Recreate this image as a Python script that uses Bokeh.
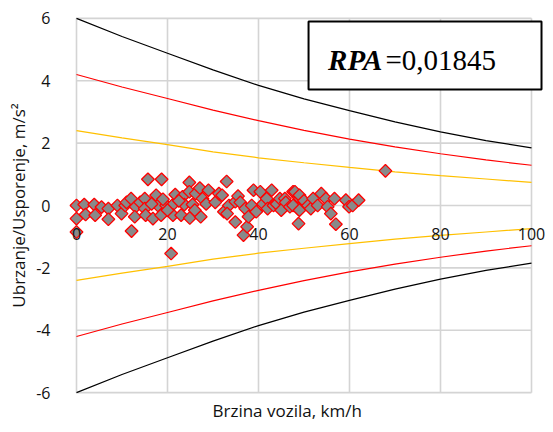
from bokeh.plotting import figure
from bokeh.models import Range1d, FixedTicker, Label, BoxAnnotation, Title
from bokeh.embed import file_html
from bokeh.resources import INLINE

# ---- data ----
speed = [0, 10, 20, 30, 40, 50, 60, 70, 80, 90, 100]
black_upper = [6.0, 5.42, 4.88, 4.35, 3.85, 3.42, 3.04, 2.68, 2.36, 2.08, 1.85]
red_upper = [4.2, 3.8, 3.43, 3.06, 2.72, 2.41, 2.13, 1.88, 1.66, 1.46, 1.29]
orange_upper = [2.4, 2.17, 1.95, 1.72, 1.53, 1.37, 1.22, 1.08, 0.96, 0.85, 0.74]
black_lower = [-6.0, -5.42, -4.88, -4.35, -3.85, -3.42, -3.04, -2.68, -2.36, -2.08, -1.85]
red_lower = [-4.2, -3.8, -3.43, -3.06, -2.72, -2.41, -2.13, -1.88, -1.66, -1.46, -1.29]
orange_lower = [-2.4, -2.17, -1.95, -1.72, -1.53, -1.37, -1.22, -1.08, -0.96, -0.85, -0.74]

meas_speed = [0, 0, 0, 1.7, 2.0, 3.9, 4.1, 5.5, 7.0, 7.0, 9.0, 9.9, 10.7, 11.0, 12.0, 12.1,
              13.0, 12.8, 14.0, 15.0, 15.0, 15.2, 15.7, 18.7, 16.8, 17.5, 17.9, 18.6, 19.7,
              20.8, 21.0, 21.2, 21.7, 23.0, 23.3, 23.7, 24.8, 24.8, 24.9, 25.5, 26.2, 27.1,
              27.3, 27.7, 29.0, 22.5, 19.0, 16.5, 20.0, 26.0, 28.5, 30.5, 31.3, 33.0, 32.0,
              32.4, 33.5, 33.1, 34.9, 34.9, 35.5, 36.0, 36.7, 37.5, 37.1, 37.8, 38.5, 38.9,
              39.5, 40.4, 41.0, 41.8, 42.0, 42.9, 43.3, 44.0, 44.7, 45.0, 45.8, 46.0, 46.9,
              47.6, 48.7, 48.7, 48.8, 48.0, 49.0, 47.6, 49.0, 50.0, 50.9, 51.5, 52.0, 53.0,
              53.8, 54.8, 55.2, 55.9, 56.7, 57.0, 59.2, 59.9, 60.7, 62.0, 67.9]
meas_accel = [0, -0.42, -0.85, 0.03, -0.29, 0.03, -0.31, -0.05, -0.1, -0.44, 0, -0.26, 0, 0.1,
              0.22, -0.82, -0.04, -0.36, 0.1, 0.22, -0.1, -0.31, 0.84, 0.84, -0.42, 0.33, 0,
              -0.31, 0, -1.54, 0, -0.31, 0.35, -0.31, 0.28, 0.03, 0.74, 0.44, -0.4, 0.03, 0.38,
              0.56, -0.36, 0.22, 0.49, 0.15, 0.2, 0.05, -0.15, -0.15, 0.05, 0.1, 0.38, 0.77,
              0.33, -0.2, 0, -0.26, 0.12, -0.53, 0.3, 0.1, -0.95, -0.68, -0.1, -0.36, 0, 0.49,
              -0.2, 0.44, 0.05, 0.22, -0.1, 0.49, 0, 0.05, 0.22, -0.15, 0.22, 0.1, -0.04,
              0.44, 0.28, -0.1, -0.58, 0.44, 0.33, 0, -0.15, 0.15, 0, -0.1, 0.22, 0,
              0.38, 0.22, -0.04, -0.26, 0.22, -0.6, 0.17, -0.04, 0, 0.17, 1.11]

x_ticks = [0, 20, 40, 60, 80, 100]
x_tick_labels = ["0", "20", "40", "60", "80", "100"]
y_ticks = [-6, -4, -2, 0, 2, 4, 6]
y_tick_labels = ["-6", "-4", "-2", "0", "2", "4", "6"]
rpa_name = "RPA"
rpa_value = "=0,01845"
x_title = "Brzina vozila, km/h"
y_title = "Ubrzanje/Usporenje, m/s²"

FONT = "Open Sans"
GRID = "#d4d4d4"
TXT = "#111111"

# frame is a little wider than the 0..100 data box so that the edge tick labels are not cut
p = figure(width=545, height=424, x_range=Range1d(-2.637, 103.077),
           y_range=Range1d(-6.06, 6.06),
           output_backend="svg", toolbar_location=None,
           min_border_left=64, min_border_right=0, min_border_top=16, min_border_bottom=30)

p.outline_line_color = None
p.background_fill_color = "white"
p.grid.visible = False

# grid lines of the data box, drawn from the tick arrays
n_x, n_y = len(x_ticks), len(y_ticks)
p.segment(x0=x_ticks, y0=[y_ticks[0]] * n_x, x1=x_ticks, y1=[y_ticks[-1]] * n_x,
          line_color=GRID, line_width=1.6)
p.segment(x0=[x_ticks[0]] * n_y, y0=y_ticks, x1=[x_ticks[-1]] * n_y, y1=y_ticks,
          line_color=GRID, line_width=1.6)

# default x axis hidden; its labels are drawn along y = 0 below
p.xaxis[0].visible = False

ya = p.yaxis[0]
ya.ticker = FixedTicker(ticks=y_ticks)
ya.major_label_overrides = {t: s for t, s in zip(y_ticks, y_tick_labels)}
ya.axis_line_color = None
ya.major_tick_line_color = None
ya.minor_tick_line_color = None
ya.major_label_standoff = 8
ya.major_label_text_font = FONT
ya.major_label_text_font_size = "16px"
ya.major_label_text_color = TXT
ya.axis_label = y_title
ya.axis_label_standoff = 3
ya.axis_label_text_font = FONT
ya.axis_label_text_font_size = "17px"
ya.axis_label_text_font_style = "normal"
ya.axis_label_text_color = TXT

p.add_layout(Title(text=x_title, align="left", offset=148, standoff=4, text_font=FONT,
                   text_font_size="17px", text_font_style="normal",
                   text_color=TXT), "below")

# envelope curves
p.line(speed, black_upper, line_color="black", line_width=1.2)
p.line(speed, black_lower, line_color="black", line_width=1.2)
p.line(speed, red_upper, line_color="#ff0000", line_width=1.2)
p.line(speed, red_lower, line_color="#ff0000", line_width=1.2)
p.line(speed, orange_upper, line_color="#ffc000", line_width=1.2)
p.line(speed, orange_lower, line_color="#ffc000", line_width=1.2)

# measurements
p.scatter(meas_speed, meas_accel, marker="square", angle=0.785398, size=9,
          fill_color="#898989", line_color="#ff0000", line_width=1.3)

# x tick labels along the zero line
for t, s in zip(x_ticks, x_tick_labels):
    p.add_layout(Label(x=t, y=0, text=s, y_offset=-28, text_align="center",
                       text_baseline="middle", text_font=FONT, text_font_size="16px",
                       text_color=TXT))

# RPA box
p.add_layout(BoxAnnotation(left=51.0, right=102.2, top=5.9, bottom=3.72,
                           fill_color="white", fill_alpha=1.0,
                           line_color="black", line_width=2, line_alpha=1.0))
p.add_layout(Label(x=55.3, y=4.68, text=rpa_name, text_font="Liberation Serif",
                   text_font_style="bold italic", text_font_size="29px",
                   text_baseline="alphabetic", text_color="black"))
p.add_layout(Label(x=67.9, y=4.68, text=rpa_value, text_font="Liberation Serif",
                   text_font_size="29px", text_baseline="alphabetic", text_color="black"))

open("out.html", "w").write(file_html(p, INLINE))
